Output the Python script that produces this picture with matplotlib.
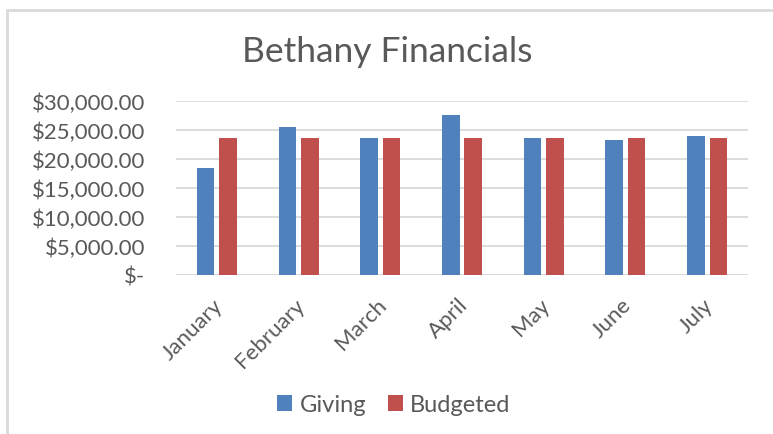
import numpy as np
import matplotlib
matplotlib.use("Agg")
import matplotlib.pyplot as plt
import matplotlib.transforms as mtransforms
from matplotlib.ticker import FuncFormatter
from matplotlib.patches import Rectangle

# data
months = ["January", "February", "March", "April", "May", "June", "July"]
giving = [18500, 25600, 23700, 27600, 23700, 23300, 24000]
budgeted = [23700, 23700, 23700, 23700, 23700, 23700, 23700]
yticks = [0, 5000, 10000, 15000, 20000, 25000, 30000]

plt.rcParams['font.family'] = ['Lato', 'DejaVu Sans']
grey = '#595959'

fig = plt.figure(figsize=(7.73, 4.35), dpi=100)
ax = fig.add_axes([176/773, 1-276/435, (748-176)/773, (276-102)/435])

x = np.arange(len(months))
w = 0.215
ax.bar(x - w/2 - 0.03, giving, w, color='#4f81bd', label='Giving')
ax.bar(x + w/2 + 0.03, budgeted, w, color='#c0504d', label='Budgeted')

ax.set_xlim(-0.5, len(months) - 0.5)
ax.set_ylim(0, 30000)
ax.set_yticks(yticks)

def money(v, pos):
    if v == 0:
        return '$-'
    return '${:,.2f}'.format(v)

ax.yaxis.set_major_formatter(FuncFormatter(money))
ax.set_xticks(x)
ax.set_xticklabels(months, rotation=45, ha='right', rotation_mode='anchor')
ax.tick_params(axis='both', length=0, colors=grey, labelsize=16)
ax.tick_params(axis='x', pad=14)
ax.tick_params(axis='y', pad=22)
shift = mtransforms.ScaledTranslation(-4/100, 0, fig.dpi_scale_trans)
for t in ax.get_xticklabels():
    t.set_transform(t.get_transform() + shift)
ax.grid(axis='y', color='#d9d9d9', linewidth=1.3)
ax.set_axisbelow(True)
for s in ax.spines.values():
    s.set_visible(False)
ax.axhline(0, color='#d9d9d9', linewidth=1.3, zorder=0)

fig.text(387/773, 1-52/435, 'Bethany Financials', ha='center', va='center',
         fontsize=25.5, color=grey)

leg = fig.legend(loc='center', bbox_to_anchor=(394/773, 1-406/435), ncol=2,
                 frameon=False, fontsize=17, handlelength=0.64, handleheight=0.64,
                 columnspacing=0.93, handletextpad=0.3)
for t in leg.get_texts():
    t.set_color(grey)

# chart border (cropped at right and bottom)
fig.patches.append(Rectangle((7.5/773, -0.1), 1.2, 1.1 - 10.5/435,
                             transform=fig.transFigure, fill=False,
                             edgecolor='#d9d9d9', linewidth=2))

fig.savefig('out.png', dpi=100)
